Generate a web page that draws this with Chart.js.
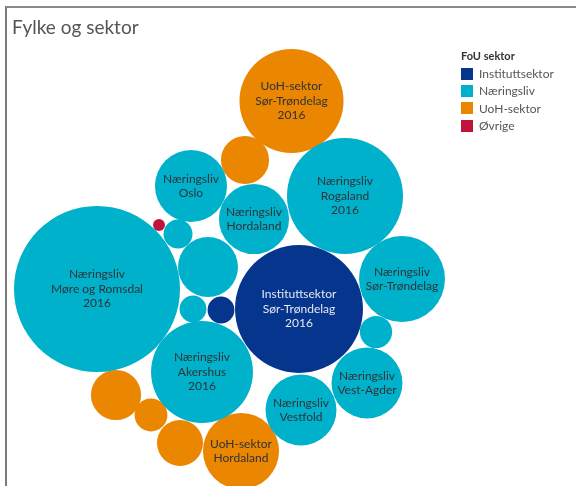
<!DOCTYPE html>
<html>
<head>
<meta charset="utf-8">
<script src="https://cdn.jsdelivr.net/npm/chart.js@4"></script>
<style>
  body { margin: 0; background: #fff; font-family: Lato, "Noto Sans", sans-serif; }
  #wrap { position: relative; width: 576px; height: 486px; overflow: hidden; }
  #frame { position: absolute; left: 5px; top: 6px; right: -2px; bottom: -2px;
           border-left: 2px solid #7a7a7a; border-top: 2px solid #8a8a8a; }
  #title { position: absolute; left: 12px; top: 15px; font-size: 19px; color: #555; }
  #legend { position: absolute; left: 461px; top: 49px; font-size: 12px; color: #555; }
  #legend .head { color: #333; font-weight: bold; font-size: 11px; margin-bottom: 3px; }
  #legend .item { display: flex; align-items: center; height: 17.3px; }
  #legend .sw { width: 12px; height: 12px; margin-right: 6px; }
  #chartBox { position: absolute; left: 0; top: 0; width: 576px; height: 486px; }
</style>
</head>
<body>
<div id="wrap">
  <div id="chartBox"><canvas id="bubbleChart"></canvas></div>
  <div id="frame"></div>
  <div id="title">Fylke og sektor</div>
  <div id="legend"><div class="head">FoU sektor</div></div>
</div>
<script>
  const year = "2016";
  const sectors = ["Instituttsektor", "Næringsliv", "UoH-sektor", "Øvrige"];
  const sectorColors = ["#06358e", "#00b1cb", "#eb8600", "#c1143c"];

  // one entry per bubble
  const bubbleSector = [
    "UoH-sektor", "UoH-sektor", "Næringsliv", "Næringsliv", "Næringsliv", "Øvrige", "Næringsliv",
    "Næringsliv", "Næringsliv", "Instituttsektor", "Næringsliv", "Næringsliv", "Instituttsektor",
    "Næringsliv", "Næringsliv", "Næringsliv", "UoH-sektor", "Næringsliv", "UoH-sektor", "UoH-sektor",
    "UoH-sektor"
  ];
  const bubbleFylke = [
    "Sør-Trøndelag", "Troms", "Oslo", "Rogaland", "Hordaland", "Oslo", "Oppland",
    "Møre og Romsdal", "Buskerud", "Sør-Trøndelag", "Sør-Trøndelag", "Telemark", "Hordaland",
    "Aust-Agder", "Akershus", "Vest-Agder", "Akershus", "Vestfold", "Nordland", "Rogaland",
    "Hordaland"
  ];
  const bubbleValue = [
    271, 58, 130, 337, 123, 3.6, 21,
    690, 90, 410, 185, 18, 18,
    26, 260, 126, 63, 126, 27, 53,
    145
  ];

  // packed layout: bubble centres, relative to the middle of the plot
  const packX = [
    3.5, -43, -97, 57, -34, -129, -110,
    -191, -80, 11, 114, -95, -67,
    88, -86, 79, -172, 13, -137, -108,
    -47
  ];
  const packY = [
    142, 83, 57, 47, 24, 18, 9,
    -46, -24, -66, -36, -66, -67,
    -89, -129, -140, -152, -167, -172, -200,
    -208
  ];

  const radiusPerSqrt = 3.16;
  const sizeOf = (v) => Math.sqrt(v) * radiusPerSqrt;

  // legend
  const legendEl = document.getElementById("legend");
  sectors.forEach((s, i) => {
    const row = document.createElement("div");
    row.className = "item";
    row.innerHTML = '<span class="sw" style="background:' + sectorColors[i] + '"></span>' + s;
    legendEl.appendChild(row);
  });

  const datasets = sectors.map((s, si) => {
    const pts = [];
    bubbleSector.forEach((sec, i) => {
      if (sec !== s) return;
      pts.push({ x: packX[i], y: packY[i], r: sizeOf(bubbleValue[i]), sector: sec, fylke: bubbleFylke[i] });
    });
    return {
      label: s,
      data: pts,
      backgroundColor: sectorColors[si],
      borderWidth: 0,
      hoverBorderWidth: 0,
      clip: false,
    };
  });

  // text inside bubbles that are big enough
  const bubbleLabels = {
    id: "bubbleLabels",
    afterDatasetsDraw(chart) {
      const ctx = chart.ctx;
      ctx.save();
      ctx.font = "12px Lato, 'Noto Sans', sans-serif";
      ctx.textAlign = "center";
      ctx.textBaseline = "middle";
      chart.data.datasets.forEach((ds, di) => {
        const meta = chart.getDatasetMeta(di);
        meta.data.forEach((el, i) => {
          const p = ds.data[i];
          let lines;
          if (p.r >= 48) lines = [p.sector, p.fylke, year];
          else if (p.r >= 33) lines = [p.sector, p.fylke];
          else return;
          ctx.fillStyle = p.sector === "Instituttsektor" ? "#e4e8f2" : "#2e3338";
          const lh = 14.5;
          const top = el.y - (lines.length - 1) * lh / 2;
          lines.forEach((t, k) => ctx.fillText(t, el.x, top + k * lh));
        });
      });
      ctx.restore();
    },
  };

  const chart = new Chart(document.getElementById("bubbleChart"), {
    type: "bubble",
    data: { datasets: datasets },
    options: {
      responsive: true,
      maintainAspectRatio: false,
      animation: false,
      layout: { padding: 0, autoPadding: false },
      plugins: { legend: { display: false }, tooltip: { enabled: false } },
      scales: {
        x: { display: false, min: -288, max: 288 },
        y: { display: false, min: -243, max: 243 },
      },
    },
    plugins: [bubbleLabels],
  });
</script>
</body>
</html>
